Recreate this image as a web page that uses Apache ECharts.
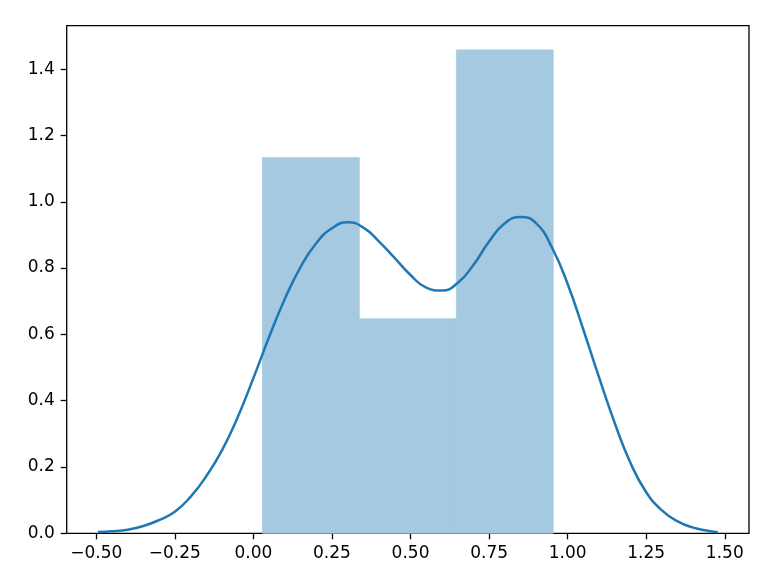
<!DOCTYPE html>
<html>
<head>
<meta charset="UTF-8">
<title>distplot</title>
<script src="https://cdn.jsdelivr.net/npm/echarts@6/dist/echarts.min.js"></script>
<style>
  html, body { margin: 0; padding: 0; background: #fff; }
  #chart { width: 767px; height: 587px; }
</style>
</head>
<body>
<div id="chart"></div>
<script>
// histogram bins (density)
var binEdges = [0.029, 0.337, 0.646, 0.954];
var binHeights = [1.133, 0.647, 1.458];

// kde curve, roughly every 0.05
var kdeX = [-0.495, -0.45, -0.40, -0.35, -0.30, -0.25, -0.20, -0.15, -0.10, -0.05,
            0.00, 0.05, 0.10, 0.15, 0.20, 0.25, 0.30, 0.35, 0.40, 0.45,
            0.50, 0.55, 0.60, 0.65, 0.70, 0.75, 0.80, 0.85, 0.90, 0.95,
            1.00, 1.05, 1.10, 1.15, 1.20, 1.25, 1.30, 1.35, 1.40, 1.45, 1.478];
var kdeY = [0.004, 0.006, 0.011, 0.022, 0.040, 0.065, 0.110, 0.172, 0.250, 0.350,
            0.468, 0.592, 0.707, 0.803, 0.875, 0.920, 0.938, 0.922, 0.880, 0.830,
            0.779, 0.741, 0.732, 0.755, 0.809, 0.880, 0.935, 0.954, 0.935, 0.862,
            0.752, 0.614, 0.470, 0.332, 0.212, 0.124, 0.069, 0.036, 0.017, 0.007, 0.003];

var xTicks = [-0.5, -0.25, 0, 0.25, 0.5, 0.75, 1.0, 1.25, 1.5];
var yTicks = [0, 0.2, 0.4, 0.6, 0.8, 1.0, 1.2, 1.4];

var chart = echarts.init(document.getElementById('chart'));

var bars = [];
for (var i = 0; i < binHeights.length; i++) {
  bars.push([binEdges[i], binEdges[i + 1], binHeights[i]]);
}
var curve = [];
for (var j = 0; j < kdeX.length; j++) {
  curve.push([kdeX[j], kdeY[j]]);
}

var font = 'DejaVu Sans';
var option = {
  animation: false,
  grid: {
    left: 66.7, right: 18, top: 25.7, bottom: 53.7,
    show: true, borderColor: '#000', borderWidth: 1.3, backgroundColor: 'transparent'
  },
  xAxis: {
    type: 'value',
    min: -0.594, max: 1.577,
    splitLine: { show: false },
    axisLine: { show: false, onZero: false },
    axisTick: { show: true, length: 6, lineStyle: { color: '#000', width: 1.3 }, customValues: xTicks },
    axisLabel: {
      customValues: xTicks, margin: 12, color: '#000', fontFamily: font, fontSize: 17,
      formatter: function (v) { return v.toFixed(2).replace('-', '\u2212'); }
    }
  },
  yAxis: {
    type: 'value',
    min: 0, max: 1.531,
    splitLine: { show: false },
    axisLine: { show: false, onZero: false },
    axisTick: { show: true, length: 6, lineStyle: { color: '#000', width: 1.3 }, customValues: yTicks },
    axisLabel: {
      customValues: yTicks, margin: 12, color: '#000', fontFamily: font, fontSize: 17,
      formatter: function (v) { return v.toFixed(1); }
    }
  },
  series: [
    {
      type: 'custom',
      data: bars,
      encode: { x: [0, 1], y: 2 },
      renderItem: function (params, api) {
        var p0 = api.coord([api.value(0), api.value(2)]);
        var p1 = api.coord([api.value(1), 0]);
        return {
          type: 'rect',
          shape: { x: p0[0], y: p0[1], width: p1[0] - p0[0], height: p1[1] - p0[1] },
          style: { fill: '#a5c9e1', stroke: '#a5c9e1', lineWidth: 0.8 }
        };
      },
      z: 1
    },
    {
      type: 'line',
      data: curve,
      smooth: 0.5,
      showSymbol: false,
      lineStyle: { color: '#1f77b4', width: 2.5 },
      z: 2
    }
  ]
};
chart.setOption(option);
</script>
</body>
</html>
